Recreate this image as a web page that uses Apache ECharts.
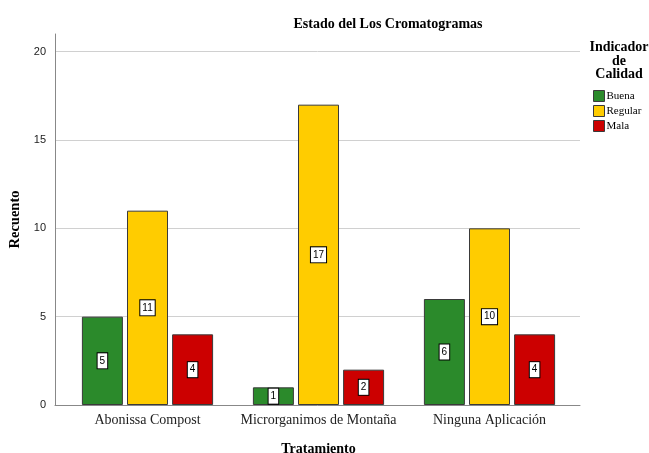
<!DOCTYPE html>
<html>
<head>
<meta charset="utf-8">
<script src="https://cdn.jsdelivr.net/npm/echarts@6/dist/echarts.min.js"></script>
<style>html,body{margin:0;padding:0;background:#fff}#chart{width:649px;height:453px}</style>
</head>
<body>
<div id="chart"></div>
<script>
// Categories and counts per quality level
const tratamientos = ['Abonissa Compost', 'Microrganimos de Montaña', 'Ninguna Aplicación'];
const niveles = ['Buena', 'Regular', 'Mala'];
const buena = [5, 1, 6];
const regular = [11, 17, 10];
const mala = [4, 2, 4];
const colores = ['#2b8a2b', '#ffcc00', '#cc0000'];
const yMax = 21;

const serif = '"Liberation Serif", "DejaVu Serif", serif';
const sans = '"Liberation Sans", Arial, sans-serif';

const valores = [buena, regular, mala];
const series = niveles.map((n, i) => ({
  name: n,
  type: 'bar',
  xAxisIndex: 1,
  yAxisIndex: 1,
  data: valores[i],
  barWidth: 41,
  barGap: '10%',
  itemStyle: { color: colores[i], borderColor: '#3a3a3a', borderWidth: 1 },
  label: {
    show: true,
    position: 'inside',
    color: '#000',
    fontFamily: sans,
    fontSize: 10,
    backgroundColor: '#fff',
    borderColor: '#000',
    borderWidth: 1,
    padding: [3, 2, 2, 2]
  }
}));

const chart = echarts.init(document.getElementById('chart'), null, { renderer: 'canvas' });
chart.setOption({
  animation: false,
  title: [
    { text: 'Estado del Los Cromatogramas', left: 383, top: 12, textAlign: 'center',
      textStyle: { fontFamily: serif, fontWeight: 'bold', fontSize: 14, color: '#000' } },
    { text: 'Indicador\nde\nCalidad', left: 614, top: 36, textAlign: 'center',
      textStyle: { fontFamily: serif, fontWeight: 'bold', fontSize: 14, lineHeight: 13.5, color: '#000' } }
  ],
  legend: {
    orient: 'vertical',
    left: 593,
    top: 90,
    padding: 0,
    itemWidth: 11,
    itemHeight: 11,
    itemGap: 3,
    icon: 'rect',
    textStyle: { fontFamily: serif, fontSize: 11, color: '#000', padding: [0, 0, 0, -3] },
    itemStyle: { borderColor: '#3a3a3a', borderWidth: 1 },
    data: niveles
  },
  grid: [
    // frame grid: axis lines, gridlines and value ticks
    { left: 55, top: 34, width: 525, height: 371, containLabel: false, outerBoundsMode: 'none' },
    // bar grid: category bands
    { left: 62, top: 34, width: 513, height: 371, containLabel: false, outerBoundsMode: 'none' }
  ],
  xAxis: [
    {
      gridIndex: 0,
      type: 'category',
      data: tratamientos,
      axisLine: { lineStyle: { color: '#888', width: 1 } },
      axisTick: { show: false },
      axisLabel: { show: false }
    },
    {
      gridIndex: 1,
      type: 'category',
      data: tratamientos,
      name: 'Tratamiento',
      nameLocation: 'middle',
      nameGap: 37,
      nameTextStyle: { fontFamily: serif, fontWeight: 'bold', fontSize: 14, color: '#000' },
      axisLine: { show: false },
      axisTick: { show: false },
      axisLabel: { fontFamily: serif, fontSize: 14, color: '#222', margin: 8, interval: 0 }
    }
  ],
  yAxis: [
    {
      gridIndex: 0,
      type: 'value',
      min: 0,
      max: yMax,
      interval: 5,
      name: 'Recuento',
      nameLocation: 'middle',
      nameGap: 30,
      nameTextStyle: { fontFamily: serif, fontWeight: 'bold', fontSize: 14.5, color: '#000' },
      axisLine: { show: true, lineStyle: { color: '#888', width: 1 } },
      axisTick: { show: false },
      axisLabel: { fontFamily: sans, fontSize: 11, color: '#222', margin: 9, showMaxLabel: false },
      splitLine: { show: true, showMaxLine: false, lineStyle: { color: '#d0d0d0', width: 1 } }
    },
    {
      gridIndex: 1,
      type: 'value',
      min: 0,
      max: yMax,
      interval: 5,
      show: false,
      splitLine: { show: false }
    }
  ],
  series: series
});
</script>
</body>
</html>
